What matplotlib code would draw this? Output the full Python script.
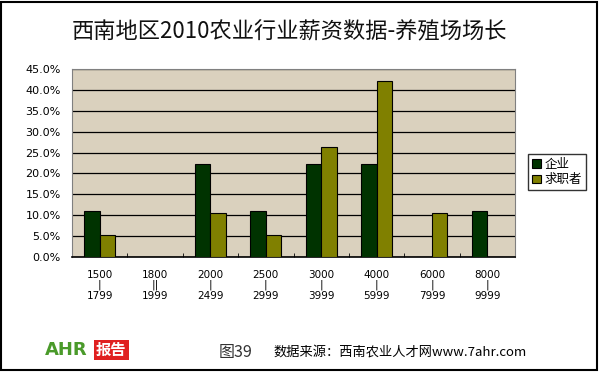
import matplotlib.pyplot as plt
import matplotlib.patches as mpatches
import numpy as np

plt.rcParams['font.family'] = ['Noto Sans CJK SC', 'DejaVu Sans']

# 薪资区间 (上限 / 下限)
low_labels = ['1500', '1800', '2000', '2500', '3000', '4000', '6000', '8000']
high_labels = ['1799', '1999', '2499', '2999', '3999', '5999', '7999', '9999']
seps = ['|', '||', '|', '|', '|', '|', '|', '|']
company = [11.1, 0, 22.2, 11.1, 22.2, 22.2, 0, 11.1]
seekers = [5.3, 0, 10.5, 5.3, 26.3, 42.1, 10.5, 0]
yticks = [0, 5, 10, 15, 20, 25, 30, 35, 40, 45]

W, H = 600, 372
fig = plt.figure(figsize=(6, 3.72), dpi=100)
fig.patch.set_facecolor('white')

# 外框
fig.patches.append(mpatches.Rectangle((1 / W, 2 / H), 596 / W, 368 / H, transform=fig.transFigure,
                                      fill=False, edgecolor='black', linewidth=1.5))

ax = fig.add_axes([72 / W, 1 - 257 / H, 443 / W, 188 / H])
ax.set_facecolor('#dad1be')

x = np.arange(len(low_labels))
bw = 0.28
ax.bar(x - bw / 2, company, bw, color='#003300', edgecolor='black', linewidth=0.8,
       label='企业', zorder=3)
ax.bar(x + bw / 2, seekers, bw, color='#808000', edgecolor='black', linewidth=0.8,
       label='求职者', zorder=3)

ax.set_xlim(-0.5, len(low_labels) - 0.5)
ax.set_ylim(0, 45)
ax.set_yticks(yticks)
ax.set_yticklabels([f'{v:.1f}%' for v in yticks], fontsize=8, family='DejaVu Sans')
ax.yaxis.grid(True, color='black', linewidth=0.9, zorder=1)
ax.set_axisbelow(True)
ax.tick_params(axis='y', length=0, pad=8)

ax.set_xticks(x)
ax.set_xticklabels([f'{a}\n{s}\n{b}' for a, s, b in zip(low_labels, seps, high_labels)],
                   fontsize=7.5, family='DejaVu Sans', linespacing=1.05)
ax.tick_params(axis='x', which='major', length=0, pad=9)
ax.set_xticks(np.arange(len(low_labels) + 1) - 0.5, minor=True)
ax.tick_params(axis='x', which='minor', direction='in', length=3, color='black')

for s in ['top', 'right', 'left']:
    ax.spines[s].set_color('#808080')
ax.spines['bottom'].set_color('black')
ax.spines['bottom'].set_linewidth(1.2)

leg = fig.legend(loc='upper left', bbox_to_anchor=(528 / W, 1 - 154 / H), fontsize=9,
                 frameon=True, fancybox=False, edgecolor='black', handlelength=0.7,
                 handleheight=0.7, handletextpad=0.3, borderpad=0.3, labelspacing=0.2,
                 borderaxespad=0)
leg.get_frame().set_linewidth(1)

fig.text(0.482, 1 - 32 / H, '西南地区2010农业行业薪资数据-养殖场场长', ha='center', va='center',
         fontsize=16, color='#111111')

# 底部标识
fig.text(45 / W, 1 - 350 / H, 'AHR', ha='left', va='center', fontsize=13, color='#4a9a2a',
         fontweight='bold', family='DejaVu Sans')
fig.text(96 / W, 1 - 350 / H, '报告', ha='left', va='center', fontsize=11, color='white',
         fontweight='bold', bbox=dict(facecolor='#e02020', edgecolor='none', pad=1.5))
fig.text(219 / W, 1 - 352 / H, '图39', ha='left', va='center', fontsize=11.5, color='#333333')
fig.text(273 / W, 1 - 352 / H, '数据来源：西南农业人才网www.7ahr.com', ha='left', va='center',
         fontsize=9.5, color='black')

fig.savefig('out.png', dpi=100)
